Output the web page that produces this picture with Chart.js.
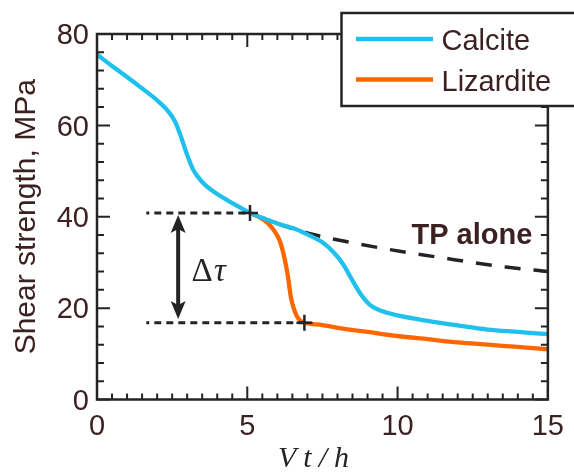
<!DOCTYPE html>
<html>
<head>
<meta charset="utf-8">
<title>Shear strength vs Vt/h</title>
<script src="https://cdn.jsdelivr.net/npm/chart.js@4.4.1/dist/chart.umd.min.js"></script>
<style>
  html, body { margin: 0; padding: 0; background: #fff; }
  #wrap { width: 574px; height: 474px; }
</style>
</head>
<body>
<div id="wrap"><canvas id="shearChart" width="574" height="474"></canvas></div>
<script>
// values (x = Vt/h, y = shear strength in MPa)
const calciteX = [0, 0.5, 1, 1.5, 2, 2.3, 2.6, 2.8, 3.0, 3.2, 3.5, 3.9, 4.5, 5.1, 5.6, 6.1, 6.6, 7.1, 7.5, 7.9, 8.2, 8.5, 8.8, 9.1, 9.5, 10, 11, 12, 13, 14, 15];
const calciteY = [75.5, 73.0, 70.6, 68.1, 65.5, 63.6, 60.8, 57.4, 53.5, 50.3, 47.6, 45.4, 43.0, 40.8, 39.5, 38.3, 37.3, 35.8, 34.4, 32.0, 29.5, 26.0, 22.8, 20.6, 19.3, 18.4, 17.2, 16.2, 15.3, 14.8, 14.3];

const lizarditeX = [5.09, 5.4, 5.7, 5.9, 6.05, 6.15, 6.25, 6.35, 6.45, 6.55, 6.65, 6.78, 6.9, 7.5, 8, 9, 10, 11, 12, 13, 14, 15];
const lizarditeY = [40.8, 39.9, 38.5, 36.9, 35.2, 33.3, 30.6, 27.0, 22.4, 19.9, 18.2, 17.2, 16.8, 16.3, 15.7, 14.8, 13.9, 13.2, 12.5, 12.0, 11.5, 11.0];

const tpAloneX = [5.09, 5.6, 6.1, 6.6, 7.2, 7.8, 8.5, 9.4, 10.5, 11.5, 12.5, 13.6, 15];
const tpAloneY = [40.8, 39.5, 38.3, 37.2, 36.1, 35.2, 34.3, 33.2, 32.0, 31.0, 30.0, 29.0, 28.0];

// the two strength levels marking the drop, and the "+" marks where they meet the curves
const upperLevelX = [1.64, 5.09];
const upperLevelY = [40.8, 40.8];
const lowerLevelX = [1.64, 6.9];
const lowerLevelY = [16.8, 16.8];
const markerX = [5.09, 6.9];
const markerY = [40.8, 16.8];

// double arrow for the stress drop
const arrowX = 2.7;
const arrowY = [40.4, 17.6];

const xLabels = [0, 5, 10, 15];
const yLabels = [0, 20, 40, 60, 80];

const textColor = "#3b2121";
const inkColor = "#242424";
const calciteColor = "#1fc1ec";
const lizarditeColor = "#ff6600";

const pts = (xs, ys) => xs.map((x, i) => ({ x: x, y: ys[i] }));

Chart.defaults.font.family = "'Liberation Sans', Arial, sans-serif";
Chart.defaults.color = textColor;

// frame with inward ticks on all four sides
const frameTicks = {
    id: "frameTicks",
    afterDatasetsDraw(chart) {
        const { ctx, chartArea: a, scales: { x, y } } = chart;
        ctx.save();
        ctx.strokeStyle = inkColor;
        ctx.lineWidth = 2;
        ctx.beginPath();
        for (let v = 0; v <= 15; v += 0.5) {
            const px = x.getPixelForValue(v);
            const len = xLabels.includes(v) ? 13 : 6;
            ctx.moveTo(px, a.bottom); ctx.lineTo(px, a.bottom - len);
            ctx.moveTo(px, a.top); ctx.lineTo(px, a.top + len);
        }
        for (let v = 0; v <= 80; v += 4) {
            const py = y.getPixelForValue(v);
            const len = yLabels.includes(v) ? 13 : 7;
            ctx.moveTo(a.left, py); ctx.lineTo(a.left + len, py);
            ctx.moveTo(a.right, py); ctx.lineTo(a.right - len, py);
        }
        ctx.stroke();
        ctx.lineWidth = 2.5;
        ctx.strokeRect(a.left, a.top, a.right - a.left, a.bottom - a.top);
        ctx.restore();
    }
};

function arrowHead(ctx, x, tipY, dir) {
    // dir = -1 points up, 1 points down
    const len = 18, half = 7.5, notch = 4;
    ctx.beginPath();
    ctx.moveTo(x, tipY);
    ctx.lineTo(x - half, tipY - dir * len);
    ctx.lineTo(x, tipY - dir * (len - notch));
    ctx.lineTo(x + half, tipY - dir * len);
    ctx.closePath();
    ctx.fill();
}

// arrow, text notes, axis title and the legend box
const notes = {
    id: "notes",
    afterDraw(chart) {
        const { ctx, scales: { x, y } } = chart;
        ctx.save();

        const ax = x.getPixelForValue(arrowX);
        const top = y.getPixelForValue(arrowY[0]);
        const bot = y.getPixelForValue(arrowY[1]);
        ctx.strokeStyle = inkColor;
        ctx.fillStyle = inkColor;
        ctx.lineWidth = 4;
        ctx.beginPath();
        ctx.moveTo(ax, top + 12);
        ctx.lineTo(ax, bot - 12);
        ctx.stroke();
        arrowHead(ctx, ax, top, -1);
        arrowHead(ctx, ax, bot, 1);

        ctx.textBaseline = "alphabetic";
        ctx.textAlign = "left";
        ctx.fillStyle = inkColor;
        ctx.font = "33px 'Liberation Serif', serif";
        ctx.fillText("Δ", 191.5, 280.5);
        ctx.font = "italic 33px 'Liberation Serif', serif";
        ctx.fillText("τ", 214, 280.5);

        ctx.fillStyle = textColor;
        ctx.font = "bold 29px 'Liberation Sans', Arial, sans-serif";
        ctx.fillText("TP alone", 411.5, 243.5);

        ctx.fillStyle = inkColor;
        ctx.font = "italic 30px 'Liberation Serif', serif";
        ctx.letterSpacing = "7px";
        ctx.fillText("Vt/h", 278, 467);
        ctx.letterSpacing = "0px";

        // legend box, drawn over the frame corner
        ctx.fillStyle = "#fff";
        ctx.fillRect(341.5, 13, 240, 93);
        ctx.strokeStyle = inkColor;
        ctx.lineWidth = 2.5;
        ctx.strokeRect(341.5, 13, 240, 93);
        const rows = [39, 79.5];
        chart.data.datasets.slice(0, 2).forEach((ds, i) => {
            ctx.strokeStyle = ds.borderColor;
            ctx.lineWidth = 4.5;
            ctx.beginPath();
            ctx.moveTo(356, rows[i]);
            ctx.lineTo(433, rows[i]);
            ctx.stroke();
            ctx.fillStyle = textColor;
            ctx.font = "29px 'Liberation Sans', Arial, sans-serif";
            ctx.fillText(ds.label, 441.5, rows[i] + 11);
        });
        ctx.restore();
    }
};

new Chart(document.getElementById("shearChart"), {
    type: "line",
    data: {
        datasets: [
            { label: "Calcite", data: pts(calciteX, calciteY), borderColor: calciteColor, borderWidth: 4.3, pointRadius: 0, cubicInterpolationMode: "monotone", order: 3 },
            { label: "Lizardite", data: pts(lizarditeX, lizarditeY), borderColor: lizarditeColor, borderWidth: 4.3, pointRadius: 0, cubicInterpolationMode: "monotone", order: 4 },
            { label: "TP alone", data: pts(tpAloneX, tpAloneY), borderColor: inkColor, borderWidth: 3.5, borderDash: [16, 13], pointRadius: 0, cubicInterpolationMode: "monotone", order: 5 },
            { label: "upper", data: pts(upperLevelX, upperLevelY), borderColor: inkColor, borderWidth: 3, borderDash: [7, 5], borderDashOffset: 4, pointRadius: 0, order: 2 },
            { label: "lower", data: pts(lowerLevelX, lowerLevelY), borderColor: inkColor, borderWidth: 3, borderDash: [7, 5], borderDashOffset: 4, pointRadius: 0, order: 2 },
            { label: "marks", data: pts(markerX, markerY), showLine: false, pointStyle: "cross", pointRadius: 8, pointBorderWidth: 2.5, pointBorderColor: inkColor, order: 1 }
        ]
    },
    options: {
        responsive: false,
        animation: false,
        layout: { padding: { top: 34, right: 21, left: 0, bottom: 0 } },
        plugins: { legend: { display: false }, tooltip: { enabled: false } },
        scales: {
            x: {
                type: "linear", min: 0, max: 15,
                grid: { display: false, drawTicks: false },
                border: { display: false },
                ticks: { stepSize: 5, padding: 10, font: { size: 29 }, color: textColor, maxRotation: 0 },
                afterFit: scale => { scale.height = 74.5; }
            },
            y: {
                type: "linear", min: 0, max: 80,
                grid: { display: false, drawTicks: false },
                border: { display: false },
                ticks: { stepSize: 20, padding: 8, labelOffset: 2.2, font: { size: 29 }, color: textColor },
                title: { display: true, text: "Shear strength, MPa", font: { size: 30 }, color: textColor, padding: { top: 8.5, bottom: 0 } },
                afterFit: scale => { scale.width = 97; }
            }
        }
    },
    plugins: [frameTicks, notes]
});
</script>
</body>
</html>
